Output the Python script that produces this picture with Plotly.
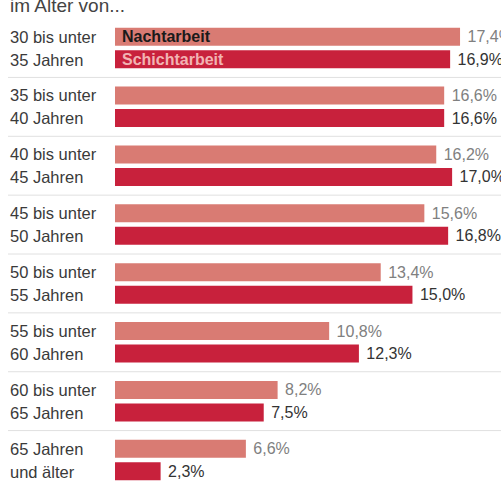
import plotly.graph_objects as go

groups = ["30-35", "35-40", "40-45", "45-50", "50-55", "55-60", "60-65", "65+"]
label_line1 = ["30 bis unter", "35 bis unter", "40 bis unter", "45 bis unter",
               "50 bis unter", "55 bis unter", "60 bis unter", "65 Jahren"]
label_line2 = ["35 Jahren", "40 Jahren", "45 Jahren", "50 Jahren",
               "55 Jahren", "60 Jahren", "65 Jahren", "und älter"]
nacht = [17.4, 16.6, 16.2, 15.6, 13.4, 10.8, 8.2, 6.6]
schicht = [16.9, 16.6, 17.0, 16.8, 15.0, 12.3, 7.5, 2.3]
series_names = ["Nachtarbeit", "Schichtarbeit"]
title_text = "im Alter von..."

W, H = 501, 485
L = 115
FONT = "Liberation Sans, Arial, sans-serif"
C_NACHT = "#d97b73"
C_SCHICHT = "#c8213c"

def fmt(v):
    return "\u00a0" + f"{v:.1f}".replace(".", ",") + "%"

fig = go.Figure()
fig.add_trace(go.Bar(
    y=groups, x=nacht, orientation="h", name=series_names[0],
    marker=dict(color=C_NACHT, line=dict(width=0)),
    text=[fmt(v) for v in nacht], textposition="outside",
    textfont=dict(family=FONT, size=16, color="#808080"),
    cliponaxis=False, hoverinfo="skip",
))
fig.add_trace(go.Bar(
    y=groups, x=schicht, orientation="h", name=series_names[1],
    marker=dict(color=C_SCHICHT, line=dict(width=0)),
    text=[fmt(v) for v in schicht], textposition="outside",
    textfont=dict(family=FONT, size=16, color="#333333"),
    cliponaxis=False, hoverinfo="skip",
))

px_per_unit = 19.83
plot_w = W - L
step = 58.86
c0 = 48

annotations = []
x_left = -(L - 8) / plot_w
for i, g in enumerate(groups):
    annotations.append(dict(x=x_left, xref="paper", y=g, yref="y", yshift=11.5,
                            text=label_line1[i], showarrow=False, xanchor="left",
                            yanchor="middle", font=dict(family=FONT, size=16.5, color="#3a3a3a")))
    annotations.append(dict(x=x_left, xref="paper", y=g, yref="y", yshift=-11.5,
                            text=label_line2[i], showarrow=False, xanchor="left",
                            yanchor="middle", font=dict(family=FONT, size=16.5, color="#3a3a3a")))

# legend labels inside first bars
annotations.append(dict(x=0, xref="x", y=groups[0], yref="y", yshift=11.3, xshift=5,
                        text="<b>" + series_names[0] + "</b>", showarrow=False,
                        xanchor="left", yanchor="middle",
                        font=dict(family=FONT, size=16, color="#1a1a1a")))
annotations.append(dict(x=0, xref="x", y=groups[0], yref="y", yshift=-11.3, xshift=5,
                        text="<b>" + series_names[1] + "</b>", showarrow=False,
                        xanchor="left", yanchor="middle",
                        font=dict(family=FONT, size=16, color="#f2b3b3")))
# title (partly cut at top)
annotations.append(dict(x=x_left, xref="paper", y=1 - 6 / H, yref="paper",
                        text=title_text, showarrow=False, xanchor="left", yanchor="middle",
                        font=dict(family=FONT, size=19, color="#444444")))

shapes = []
for i in range(len(groups) - 1):
    shapes.append(dict(type="line", xref="paper", yref="y", x0=x_left, x1=1,
                       y0=i + 0.5, y1=i + 0.5, line=dict(color="#e0e0e0", width=1),
                       layer="below"))

fig.update_layout(
    width=W, height=H, autosize=False,
    margin=dict(l=L, r=0, t=0, b=0),
    paper_bgcolor="white", plot_bgcolor="white",
    barmode="group", bargap=0.235, bargroupgap=0.2,
    showlegend=False,
    xaxis=dict(range=[0, plot_w / px_per_unit], visible=False, fixedrange=True),
    yaxis=dict(type="category", categoryorder="array", categoryarray=groups,
               range=[(H - c0) / step, -c0 / step], visible=False, fixedrange=True),
    annotations=annotations, shapes=shapes,
    uniformtext=dict(mode=False),
)

fig.write_html("out.html", config={"displayModeBar": False},
               post_script="document.body.style.margin='0';")
